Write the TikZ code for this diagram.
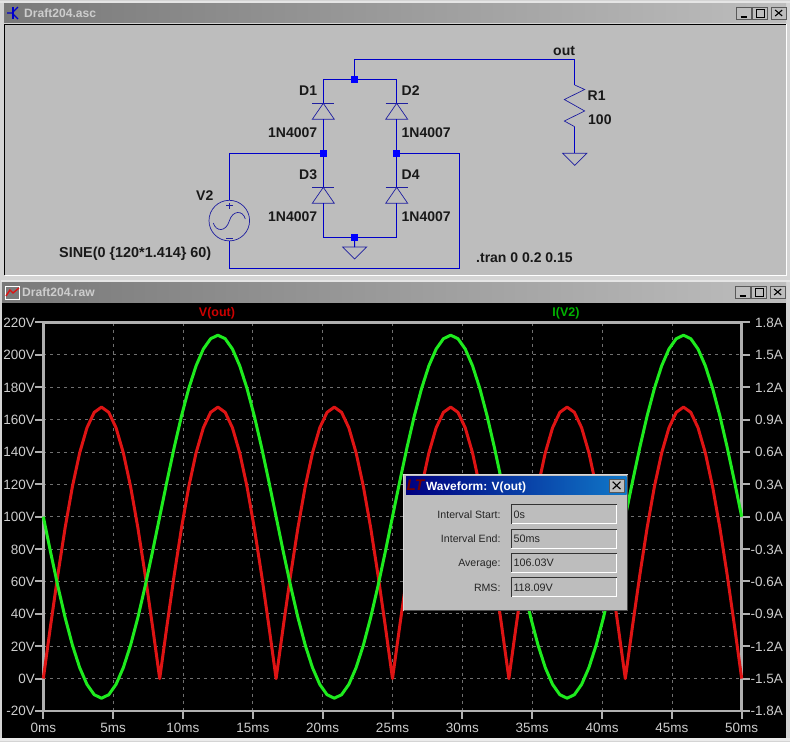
\documentclass[tikz,border=0pt]{standalone}
\usepackage{fontspec}
\setmainfont{Liberation Sans}
\usetikzlibrary{positioning}

\definecolor{wireblue}{RGB}{0,0,200}
\definecolor{symblue}{RGB}{30,30,160}
\definecolor{clientgray}{RGB}{189,189,189}
\definecolor{framegray}{RGB}{212,212,212}
\definecolor{axisgray}{RGB}{176,176,176}
\definecolor{gridgray}{RGB}{112,112,112}
\definecolor{labelgray}{RGB}{205,205,205}
\definecolor{traceout}{RGB}{222,20,20}
\definecolor{tracei}{RGB}{30,235,30}
\definecolor{dlgleft}{RGB}{0,0,128}
\definecolor{dlgright}{RGB}{16,120,200}

\newcommand{\FontPx}[1]{\fontsize{#1}{#1}\selectfont}

\newcommand{\DiodeSym}[3]{
  \coordinate (#1k) at (#2,#3);
  \coordinate (#1a) at (#2,#3+16);
  \draw[symbol] (#2-11,#3) -- (#2+11,#3);
  \draw[symbol] (#1k) -- (#2-11,#3+16) -- (#2+11,#3+16) -- cycle;
}
\newcommand{\GroundSym}[3]{
  \coordinate (#1) at (#2,#3);
  \draw[symbol] (#1) -- (#2-12,#3) -- (#2,#3+12) -- (#2+12,#3) -- cycle;
}
\newcommand{\WinButtons}[3]{
  \node[winbtn] (#1min) at (#2,#3) {};
  \node[winbtn,right=1pt of #1min] (#1max) {};
  \node[winbtn,right=3pt of #1max] (#1cls) {};
  \draw[line width=2pt] ([xshift=-3pt,yshift=-3.5pt]#1min.center) -- ++(6,0);
  \draw[line width=.8pt] ([xshift=-4pt,yshift=4pt]#1max.center) rectangle ++(8,8);
  \draw[line width=1.1pt] ([xshift=-3.5pt,yshift=3pt]#1cls.center) -- ++(7,6);
  \draw[line width=1.1pt] ([xshift=3.5pt,yshift=3pt]#1cls.center) -- ++(-7,6);
}

\begin{document}
\begin{tikzpicture}[x=1pt,y=-1pt,
    wire/.style={draw=wireblue,line width=1pt},
    symbol/.style={draw=symblue,line width=.7pt},
    junct/.style={rectangle,fill=blue,inner sep=0pt,minimum size=6.5pt},
    lbl/.style={anchor=base west,inner sep=0pt,text=black!90,font=\bfseries\FontPx{14}},
    axlbl/.style={anchor=base east,inner sep=0pt,text=labelgray,font=\FontPx{13.5}},
    btmlbl/.style={anchor=base,inner sep=0pt,text=labelgray,font=\FontPx{13.5}},
    wintitle/.style={anchor=base west,inner sep=0pt,text=labelgray,font=\bfseries\FontPx{12.1}},
    winbtn/.style={rectangle,draw=black!65,fill=clientgray,line width=.6pt,inner sep=0pt,minimum width=15pt,minimum height=12pt},
    dlglbl/.style={anchor=base east,inner sep=0pt,text=black!85,font=\FontPx{10.6}},
    fldtxt/.style={anchor=base west,inner sep=0pt,text=black!85,font=\FontPx{10.8}},
    griddash/.style={gridgray,line width=.7pt,dash pattern=on 3pt off 4pt},
    axisline/.style={axisgray,line width=2.6pt},
    trace/.style={line width=3pt,line join=round,samples=97,domain=0:50}]
  \useasboundingbox (0,0) rectangle (790,742);

  \fill[framegray] (0,0) rectangle (790,742);
  \fill[white!90!black] (0,1) rectangle (790,3);
  \fill[white!90!black] (1,279.5) rectangle (790,281.5);
  \shade[left color=gray!95!black,right color=clientgray] (4,3.5) rectangle (786,22);
  \shade[left color=gray!95!black,right color=clientgray] (2,282.5) rectangle (786,302);

  \fill[clientgray] (5,24) rectangle (786,275);
  \draw[black,line width=1pt] (4.5,275) -- (4.5,24.5) -- (786,24.5);
  \draw[white,line width=1pt] (4.5,275.5) -- (786.5,275.5) -- (786.5,24);
  \fill[black] (2,303) rectangle (786,737.5);
  \fill[white!92!black] (0,738) rectangle (790,741);

  \draw[blue!80!black,line width=1.2pt] (13,7) -- (13,19);
  \draw[blue!80!black,line width=1.2pt] (7,13) -- (13,13) (13,12) -- (18,7) (13,14) -- (18,19);
  \node[wintitle] (ascname) at (24,17.5) {Draft204.asc};

  \draw[white,line width=.8pt] (5.5,286.5) rectangle (19,299);
  \draw[traceout,line width=1.4pt] (6,296) -- (10,290) -- (13,293) -- (19,288);
  \node[wintitle] (rawname) at (22,296.5) {Draft204.raw};

  \WinButtons{asc}{743.5}{13}
  \WinButtons{raw}{742.5}{292}

  \node[junct] (jtop) at (354.5,79.3) {};
  \node[junct] (jleft) at (323.3,153.3) {};
  \node[junct] (jright) at (396.7,153.3) {};
  \node[junct] (jbot) at (354.5,237.3) {};
  \node[circle,symbol,inner sep=0pt,minimum size=40.6pt] (vsrc) at (229.3,220.6) {};
  \coordinate (outc) at (574.7,59.3);
  \coordinate (loopbr) at (459.3,268.3);
  \coordinate (looptr) at (459.3,153.3);
  \coordinate (r1top) at (574.7,85);
  \coordinate (r1bot) at (574.7,126.7);

  \DiodeSym{d1}{323.3}{103.3}
  \DiodeSym{d2}{396.7}{103.3}
  \DiodeSym{d3}{323.3}{187.3}
  \DiodeSym{d4}{396.7}{187.3}
  \GroundSym{gndbr}{354.7}{247}
  \GroundSym{gndr}{574.7}{153.3}

  \draw[wire] (d1k) |- (jtop);
  \draw[wire] (d2k) |- (jtop);
  \draw[wire] (d1a) -- (jleft);
  \draw[wire] (d2a) -- (jright);
  \draw[wire] (jleft) -- (d3k);
  \draw[wire] (jright) -- (d4k);
  \draw[wire] (d3a) |- (jbot);
  \draw[wire] (d4a) |- (jbot);
  \draw[wire] (jbot) -- (gndbr);
  \draw[wire] (jtop) |- (outc) -- (r1top);
  \draw[wire] (r1bot) -- (gndr);
  \draw[wire] (vsrc.north) |- (jleft);
  \draw[wire] (vsrc.south) |- (loopbr) -- (looptr) -- (jright);
  \draw[symbol] (r1top) -- (584.7,89.5) -- (564.3,99.5) -- (584.7,111) -- (564.3,121) -- (r1bot);
  \draw[symbol] (213.3,223) .. controls (216,232) and (226,232) .. (229.3,221) .. controls (232.5,210) and (243,210) .. (245.3,219);
  \draw[symbol] (226,205.5) -- (232.5,205.5) (229.3,202.5) -- (229.3,208.5);
  \draw[symbol] (226,238) -- (232.5,238);

  \node[lbl] (d1lbl) at (299,95) {D1};
  \node[lbl] (d1val) at (268,137) {1N4007};
  \node[lbl] (d2lbl) at (401.5,95) {D2};
  \node[lbl] (d2val) at (401.5,137) {1N4007};
  \node[lbl] (d3lbl) at (299,179) {D3};
  \node[lbl] (d3val) at (268,221) {1N4007};
  \node[lbl] (d4lbl) at (401.5,179) {D4};
  \node[lbl] (d4val) at (401.5,221) {1N4007};
  \node[lbl] (v2lbl) at (196,200) {V2};
  \node[lbl,font=\bfseries\FontPx{14.4}] (sinelbl) at (59,257) {SINE(0 \{120*1.414\} 60)};
  \node[lbl] (outlbl) at (553,55) {out};
  \node[lbl] (r1lbl) at (587.5,100) {R1};
  \node[lbl] (r1val) at (588,124) {100};
  \node[lbl] (tranlbl) at (476,262) {.tran 0 0.2 0.15};

  \foreach \k in {1,...,9} {
    \draw[griddash] ({43.3+69.84*\k},322.5) -- ({43.3+69.84*\k},711);
  }
  \foreach \k in {1,...,11} {
    \draw[griddash] (43.3,{322.4+32.38*\k}) -- (741.7,{322.4+32.38*\k});
  }

  \draw[axisline] (43.3,322.4) rectangle (741.7,711);
  \foreach \val [count=\k from 0] in {220,200,180,160,140,120,100,80,60,40,20,0,-20} {
    \draw[axisgray,line width=2pt] (35,{322.4+32.38*\k}) -- (43.3,{322.4+32.38*\k});
    \node[axlbl] (vlab\k) at (35,{327.4+32.38*\k}) {\val V};
  }
  \foreach \val [count=\k from 0] in {1.8,1.5,1.2,0.9,0.6,0.3,0.0,-0.3,-0.6,-0.9,-1.2,-1.5,-1.8} {
    \draw[axisgray,line width=2pt] (741.7,{322.4+32.38*\k}) -- (750,{322.4+32.38*\k});
    \node[axlbl] (ilab\k) at (783,{327.4+32.38*\k}) {\val A};
  }
  \foreach \k in {0,...,10} {
    \pgfmathtruncatemacro{\ms}{5*\k}
    \draw[axisgray,line width=2pt] ({43.3+69.84*\k},711) -- ({43.3+69.84*\k},719);
    \node[btmlbl] (tlab\k) at ({43.3+69.84*\k},732) {\ms ms};
  }

  \node[anchor=base,inner sep=0pt,text=red!80!black,font=\bfseries\FontPx{12.5}] (vtitle) at (217,316.5) {V(out)};
  \node[anchor=base,inner sep=0pt,text=green!70!black,font=\bfseries\FontPx{12.5}] (ititle) at (566,316.5) {I(V2)};

  \draw[trace,traceout] plot ({43.3+13.968*\x},{678.6-271.5*abs(sin(21.6*\x))});
  \draw[trace,tracei] plot ({43.3+13.968*\x},{516.7+181.5*sin(21.6*\x)});

  \fill[clientgray] (403.3,474) rectangle (628,610.7);
  \draw[white!85!black,line width=1pt] (403.8,610.5) -- (403.8,474.5) -- (628,474.5);
  \draw[black!70,line width=1pt] (403.8,610.5) -- (627.7,610.5) -- (627.7,474.5);
  \shade[left color=dlgleft,right color=dlgright] (406,476) rectangle (626.5,494);
  \node[anchor=base,inner sep=0pt,text=red!45!black,font=\bfseries\itshape\FontPx{15.5}] (dlgicon) at (415.5,490) {LT};
  \node[anchor=base west,inner sep=0pt,text=white,font=\bfseries\FontPx{11.9}] (dlgtitle) at (426,490) {Waveform: V(out)};
  \node[winbtn,minimum width=15pt,minimum height=13pt] (dlgcls) at (616.7,485.5) {};
  \draw[line width=1.1pt] (612.7,481.7) -- (620.5,489.2) (620.5,481.7) -- (612.7,489.2);

  \foreach \name/\ytop/\ybot/\txt/\fld in {Start/504.3/523.7/Interval Start:/0s,End/529/548.3/Interval End:/50ms,Avg/553.3/572.3/Average:/106.03V,Rms/577.3/596.7/RMS:/118.09V} {
    \draw[white,line width=1pt] (511,\ybot) -- (616.5,\ybot) -- (616.5,\ytop);
    \draw[black!80,line width=1pt] (511,\ybot) -- (511,\ytop) -- (616.5,\ytop);
    \node[dlglbl] (lbl\name) at (500.7,{\ybot-5.5}) {\txt};
    \node[fldtxt] (fld\name) at (513.3,{\ybot-5.5}) {\fld};
  }
\end{tikzpicture}
\end{document}
